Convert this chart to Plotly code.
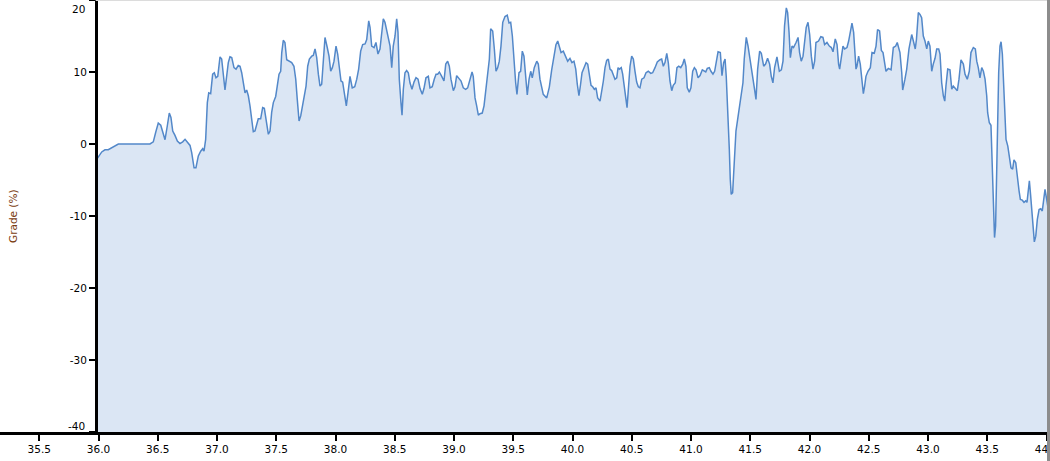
import plotly.graph_objects as go

# ---------------- data ----------------
distance_km = [
    35.976, 35.990, 36.027, 36.054, 36.082, 36.111, 36.139, 36.167, 36.434, 36.462,
    36.482, 36.504, 36.525, 36.541, 36.561, 36.580, 36.597, 36.611, 36.626, 36.645,
    36.665, 36.687, 36.710, 36.730, 36.749, 36.772, 36.786, 36.806, 36.822, 36.842,
    36.862, 36.879, 36.890, 36.904, 36.918, 36.930, 36.946, 36.963, 36.977, 36.991,
    37.006, 37.025, 37.039, 37.053, 37.067, 37.081, 37.095, 37.109, 37.124, 37.143,
    37.160, 37.179, 37.194, 37.208, 37.222, 37.236, 37.250, 37.264, 37.278, 37.292,
    37.306, 37.320, 37.335, 37.348, 37.368, 37.385, 37.399, 37.413, 37.433, 37.447,
    37.461, 37.475, 37.495, 37.508, 37.523, 37.537, 37.546, 37.559, 37.573, 37.588,
    37.610, 37.630, 37.649, 37.664, 37.677, 37.692, 37.706, 37.723, 37.736, 37.751,
    37.765, 37.779, 37.799, 37.812, 37.827, 37.841, 37.855, 37.869, 37.883, 37.897,
    37.911, 37.930, 37.945, 37.959, 37.973, 37.987, 38.004, 38.018, 38.032, 38.046,
    38.060, 38.074, 38.091, 38.105, 38.122, 38.141, 38.162, 38.179, 38.195, 38.212,
    38.229, 38.249, 38.263, 38.280, 38.291, 38.305, 38.325, 38.341, 38.358, 38.375,
    38.389, 38.403, 38.417, 38.432, 38.449, 38.460, 38.474, 38.487, 38.502, 38.516,
    38.527, 38.538, 38.552, 38.561, 38.572, 38.586, 38.600, 38.614, 38.628, 38.645,
    38.662, 38.679, 38.696, 38.713, 38.732, 38.746, 38.763, 38.783, 38.797, 38.816,
    38.833, 38.848, 38.862, 38.876, 38.896, 38.915, 38.930, 38.946, 38.960, 38.974,
    38.994, 39.008, 39.022, 39.042, 39.059, 39.078, 39.098, 39.115, 39.135, 39.152,
    39.162, 39.177, 39.191, 39.205, 39.219, 39.238, 39.253, 39.267, 39.284, 39.298,
    39.309, 39.326, 39.340, 39.354, 39.368, 39.382, 39.396, 39.411, 39.430, 39.449,
    39.464, 39.478, 39.492, 39.506, 39.520, 39.531, 39.548, 39.562, 39.576, 39.590,
    39.605, 39.618, 39.633, 39.647, 39.660, 39.677, 39.698, 39.711, 39.725, 39.740,
    39.753, 39.782, 39.804, 39.824, 39.843, 39.860, 39.875, 39.888, 39.903, 39.922,
    39.942, 39.959, 39.978, 39.995, 40.012, 40.027, 40.040, 40.054, 40.065, 40.080,
    40.097, 40.114, 40.128, 40.141, 40.156, 40.170, 40.184, 40.198, 40.212, 40.232,
    40.246, 40.260, 40.274, 40.288, 40.302, 40.316, 40.330, 40.344, 40.358, 40.373,
    40.384, 40.395, 40.411, 40.423, 40.437, 40.451, 40.460, 40.471, 40.485, 40.499,
    40.513, 40.527, 40.541, 40.555, 40.569, 40.584, 40.603, 40.620, 40.639, 40.660,
    40.676, 40.696, 40.715, 40.738, 40.752, 40.766, 40.780, 40.795, 40.808, 40.822,
    40.837, 40.850, 40.867, 40.881, 40.896, 40.913, 40.930, 40.943, 40.957, 40.968,
    40.985, 40.999, 41.014, 41.028, 41.042, 41.059, 41.076, 41.095, 41.109, 41.124,
    41.137, 41.154, 41.168, 41.185, 41.199, 41.213, 41.228, 41.247, 41.261, 41.275,
    41.287, 41.297, 41.309, 41.323, 41.331, 41.339, 41.351, 41.359, 41.368, 41.379,
    41.393, 41.410, 41.421, 41.438, 41.449, 41.466, 41.481, 41.494, 41.508, 41.523,
    41.536, 41.548, 41.562, 41.579, 41.593, 41.613, 41.629, 41.646, 41.663, 41.677,
    41.691, 41.705, 41.725, 41.745, 41.762, 41.776, 41.789, 41.804, 41.815, 41.827,
    41.838, 41.852, 41.865, 41.886, 41.903, 41.916, 41.930, 41.945, 41.958, 41.972,
    41.987, 42.001, 42.015, 42.029, 42.043, 42.054, 42.076, 42.095, 42.113, 42.127,
    42.147, 42.167, 42.184, 42.198, 42.217, 42.232, 42.245, 42.254, 42.268, 42.282,
    42.296, 42.316, 42.330, 42.344, 42.358, 42.372, 42.380, 42.392, 42.400, 42.414,
    42.428, 42.443, 42.454, 42.465, 42.476, 42.493, 42.513, 42.527, 42.546, 42.561,
    42.574, 42.591, 42.606, 42.620, 42.633, 42.645, 42.665, 42.688, 42.707, 42.727,
    42.740, 42.763, 42.778, 42.786, 42.805, 42.820, 42.839, 42.862, 42.876, 42.892,
    42.902, 42.918, 42.932, 42.946, 42.960, 42.974, 42.989, 43.002, 43.016, 43.031,
    43.044, 43.059, 43.073, 43.090, 43.101, 43.115, 43.129, 43.141, 43.151, 43.166,
    43.185, 43.200, 43.213, 43.230, 43.247, 43.261, 43.278, 43.298, 43.312, 43.331,
    43.348, 43.362, 43.382, 43.399, 43.411, 43.424, 43.438, 43.453, 43.467, 43.481,
    43.495, 43.503, 43.517, 43.531, 43.542, 43.551, 43.561, 43.570, 43.579, 43.588,
    43.596, 43.607, 43.616, 43.627, 43.635, 43.647, 43.658, 43.673, 43.686, 43.700,
    43.714, 43.725, 43.740, 43.753, 43.768, 43.779, 43.795, 43.810, 43.824, 43.835,
    43.846, 43.855, 43.866, 43.875, 43.888, 43.897, 43.909, 43.922, 43.937, 43.951,
    43.964, 43.976, 43.987, 44.001, 44.010,
]

grade_pct = [
    -1.4, -2.0, -1.1, -0.8, -0.8, -0.5, -0.3, 0.0, 0.0, 0.3,
    1.6, 2.9, 2.6, 1.6, 0.6, 2.5, 4.3, 3.7, 1.8, 1.2,
    0.4, 0.05, 0.3, 0.65, 0.2, -0.2, -1.2, -3.3, -3.3, -1.65,
    -1.0, -0.65, -1.0, 0.65, 5.75, 7.1, 7.0, 9.7, 9.9, 9.2,
    9.4, 12.1, 11.8, 9.9, 7.5, 9.4, 11.3, 12.1, 12.0, 10.6,
    10.4, 10.9, 10.8, 9.9, 8.5, 7.1, 7.5, 6.7, 5.3, 3.0,
    1.7, 1.8, 2.7, 3.5, 3.5, 5.05, 4.95, 3.2, 1.35, 1.8,
    4.4, 5.75, 6.6, 8.05, 9.7, 10.1, 12.7, 14.4, 14.1, 11.7,
    11.5, 11.3, 10.8, 9.0, 6.2, 3.2, 3.9, 5.4, 6.9, 8.05,
    10.8, 11.8, 12.2, 12.3, 13.2, 12.0, 9.7, 8.05, 8.3, 11.8,
    14.8, 13.4, 12.2, 10.1, 10.6, 11.5, 13.6, 12.5, 10.1, 8.75,
    8.6, 6.9, 5.3, 7.1, 9.4, 7.8, 7.95, 9.0, 10.4, 12.9,
    13.8, 13.9, 14.5, 17.1, 16.2, 13.6, 13.4, 14.1, 12.5, 13.2,
    15.5, 17.4, 16.9, 15.7, 14.3, 13.6, 10.6, 13.6, 15.0, 17.4,
    15.5, 9.0, 5.75, 4.0, 7.6, 9.9, 10.2, 9.9, 8.5, 7.6,
    8.6, 9.2, 9.0, 7.7, 6.9, 7.7, 9.2, 9.4, 7.8, 7.95,
    9.0, 9.7, 9.7, 10.0, 9.4, 8.75, 11.1, 11.5, 10.8, 9.0,
    7.4, 7.95, 9.5, 9.0, 8.75, 7.8, 7.6, 7.8, 9.0, 10.0,
    9.4, 6.4, 5.3, 4.0, 4.2, 4.3, 5.3, 7.1, 9.9, 11.8,
    16.0, 15.7, 13.2, 10.1, 10.6, 11.5, 13.6, 16.9, 17.7, 17.9,
    16.8, 16.9, 15.0, 10.8, 8.5, 6.9, 9.9, 10.1, 12.9, 12.2,
    9.0, 6.8, 9.0, 10.1, 9.2, 10.6, 11.5, 11.1, 9.0, 7.8,
    6.9, 6.4, 7.9, 10.3, 12.0, 13.8, 14.3, 13.4, 12.7, 12.9,
    12.2, 11.5, 11.9, 11.3, 11.5, 10.4, 8.3, 6.7, 7.95, 9.9,
    10.6, 11.3, 11.1, 9.4, 8.15, 7.95, 7.6, 7.8, 6.4, 5.95,
    7.1, 8.75, 10.6, 11.6, 11.8, 10.4, 10.2, 9.5, 9.0, 9.2,
    10.6, 10.4, 10.6, 9.7, 7.6, 5.75, 5.05, 7.6, 10.8, 12.2,
    11.8, 10.1, 8.6, 7.95, 7.8, 9.0, 9.2, 9.9, 10.1, 9.8,
    9.9, 10.6, 11.4, 11.7, 11.8, 10.8, 11.3, 12.6, 11.3, 8.75,
    7.4, 8.15, 8.5, 10.6, 10.8, 10.6, 11.1, 11.8, 10.8, 7.8,
    7.2, 7.8, 10.1, 10.6, 10.3, 9.2, 9.5, 10.3, 10.1, 10.0,
    10.5, 10.6, 10.1, 9.7, 10.1, 11.3, 12.8, 12.7, 9.5, 11.3,
    11.8, 9.4, 5.3, -0.75, -4.9, -7.0, -6.75, -4.4, -1.2, 1.8,
    3.4, 5.3, 7.1, 8.5, 11.8, 14.8, 13.6, 12.0, 10.4, 9.0,
    7.6, 6.2, 10.4, 12.9, 12.6, 10.8, 11.1, 11.9, 11.1, 9.4,
    8.5, 10.6, 12.1, 10.1, 10.3, 11.5, 16.4, 18.9, 18.25, 15.5,
    12.0, 13.6, 13.4, 14.1, 14.8, 12.7, 11.5, 12.2, 14.1, 16.2,
    16.9, 15.2, 12.2, 10.4, 11.5, 14.1, 14.3, 14.9, 14.8, 13.8,
    14.1, 13.6, 13.4, 12.8, 14.6, 13.8, 11.1, 10.4, 12.0, 13.6,
    13.2, 13.4, 14.3, 15.7, 16.8, 15.5, 12.7, 10.4, 10.8, 12.2,
    11.1, 8.05, 7.0, 8.05, 9.4, 10.1, 10.6, 12.7, 12.6, 13.6,
    15.9, 15.7, 13.0, 12.7, 11.5, 10.1, 10.5, 10.3, 13.4, 13.6,
    14.1, 12.7, 9.9, 7.5, 9.0, 10.4, 13.2, 15.2, 14.3, 13.2,
    14.5, 18.25, 18.0, 17.55, 15.0, 14.3, 13.2, 14.3, 13.6, 10.1,
    11.1, 11.9, 13.2, 13.2, 12.5, 8.5, 6.7, 5.95, 8.05, 10.4,
    10.3, 7.6, 8.05, 7.7, 7.4, 9.0, 11.7, 11.1, 9.7, 9.0,
    10.1, 12.7, 13.4, 13.2, 11.5, 10.6, 9.2, 10.6, 10.1, 9.0,
    6.7, 4.35, 2.95, 2.6, -3.05, -9.5, -13.0, -11.4, -3.05, 5.3,
    9.9, 13.6, 14.2, 12.5, 9.4, 4.8, 0.65, -0.3, -1.65, -3.3,
    -3.5, -2.2, -2.6, -4.9, -6.5, -7.7, -7.8, -8.1, -7.9, -8.1,
    -6.3, -5.1, -7.2, -9.5, -12.3, -13.6, -12.8, -10.5, -9.1, -9.0,
    -9.3, -7.7, -6.3, -7.7, -8.6,
]

x_tick_values = [35.5, 36.0, 36.5, 37.0, 37.5, 38.0, 38.5, 39.0, 39.5,
                 40.0, 40.5, 41.0, 41.5, 42.0, 42.5, 43.0, 43.5, 44.0]
x_tick_labels = ["35.5", "36.0", "36.5", "37.0", "37.5", "38.0", "38.5", "39.0", "39.5",
                 "40.0", "40.5", "41.0", "41.5", "42.0", "42.5", "43.0", "43.5", "44.0"]
y_tick_values = [-40, -30, -20, -10, 0, 10, 20]
y_tick_labels = ["-40", "-30", "-20", "-10", "0", "10", "20"]
y_title = "Grade (%)"

assert len(distance_km) == len(grade_pct)

# ---------------- layout constants ----------------
W, H = 1050, 461
M_L, M_R, M_T, M_B = 0, 3, 0, 29
X_RANGE = [35.1684, 44.0038]
Y_RANGE = [-40, 20]
FONT = "DejaVu Sans"
FS = 10.5
LINE_COLOR = "#5388c9"
FILL_COLOR = "#dbe6f4"
TITLE_COLOR = "#7a3b10"

plot_w = W - M_L - M_R
plot_h = H - M_T - M_B
yaxis_pos = (distance_km[0] - X_RANGE[0]) / (X_RANGE[1] - X_RANGE[0])

fig = go.Figure()
# baseline at the bottom of the value axis, so the area fills down to it
fig.add_trace(go.Scatter(
    x=distance_km, y=[Y_RANGE[0]] * len(distance_km),
    mode="lines", line=dict(width=0, color=FILL_COLOR),
    hoverinfo="skip", showlegend=False,
))
fig.add_trace(go.Scatter(
    x=distance_km, y=grade_pct, mode="lines",
    fill="tonexty", fillcolor=FILL_COLOR,
    line=dict(color=LINE_COLOR, width=1.5),
    showlegend=False, name="Grade",
))

# inner tick labels via the axis; the two edge labels are shifted inward below
inner_text = [t if v not in (Y_RANGE[0], Y_RANGE[1]) else "" for v, t in zip(y_tick_values, y_tick_labels)]

fig.update_layout(
    width=W, height=H,
    margin=dict(l=M_L, r=M_R, t=M_T, b=M_B, pad=0),
    paper_bgcolor="white", plot_bgcolor="white",
    template="none",
    font=dict(family=FONT, size=FS, color="black"),
    showlegend=False,
    xaxis=dict(
        range=X_RANGE, tickmode="array", tickvals=x_tick_values, ticktext=x_tick_labels,
        ticks="outside", ticklen=6, tickwidth=2, tickcolor="black",
        showline=True, linecolor="black", linewidth=2.5,
        showgrid=False, zeroline=False, automargin=False,
        ticklabeloverflow="allow",
        tickfont=dict(family=FONT, size=FS, color="black"),
    ),
    yaxis=dict(
        range=Y_RANGE, anchor="free", position=yaxis_pos,
        tickmode="array", tickvals=y_tick_values, ticktext=inner_text,
        ticks="outside", ticklen=6, tickwidth=2, tickcolor="black",
        showline=True, linecolor="black", linewidth=2.5,
        showgrid=False, zeroline=False, automargin=False,
        tickfont=dict(family=FONT, size=FS, color="black"),
    ),
)

annotations = []
for v, t in zip(y_tick_values, y_tick_labels):
    if v == Y_RANGE[1]:
        annotations.append(dict(x=yaxis_pos, y=1, xref="paper", yref="paper", text=t,
                                showarrow=False, xanchor="right", yanchor="middle",
                                xshift=-9, yshift=-8.5,
                                font=dict(family=FONT, size=FS, color="black")))
    elif v == Y_RANGE[0]:
        annotations.append(dict(x=yaxis_pos, y=0, xref="paper", yref="paper", text=t,
                                showarrow=False, xanchor="right", yanchor="middle",
                                xshift=-9, yshift=6.2,
                                font=dict(family=FONT, size=FS, color="black")))
annotations.append(dict(x=13 / plot_w, y=0.5, xref="paper", yref="paper", text=y_title,
                        showarrow=False, textangle=-90, xanchor="center", yanchor="middle",
                        font=dict(family=FONT, size=FS, color=TITLE_COLOR)))
fig.update_layout(annotations=annotations)

fig.update_layout(shapes=[
    dict(type="line", xref="paper", yref="paper", x0=yaxis_pos, x1=1, y0=1, y1=1,
         line=dict(color="#dcdcdc", width=2), layer="above"),
    dict(type="rect", xref="paper", yref="paper", x0=1, x1=1 + M_R / plot_w,
         y0=-M_B / plot_h, y1=1, fillcolor="#8c8c8c", line=dict(width=0), layer="above"),
])

# remove the browser's default 8px page margin so the figure sits at the window's corner
page_css = "document.body.style.margin='0px'; document.body.style.overflow='hidden';"
fig.write_html("out.html", post_script=page_css,
               config={"displayModeBar": False, "staticPlot": False})
